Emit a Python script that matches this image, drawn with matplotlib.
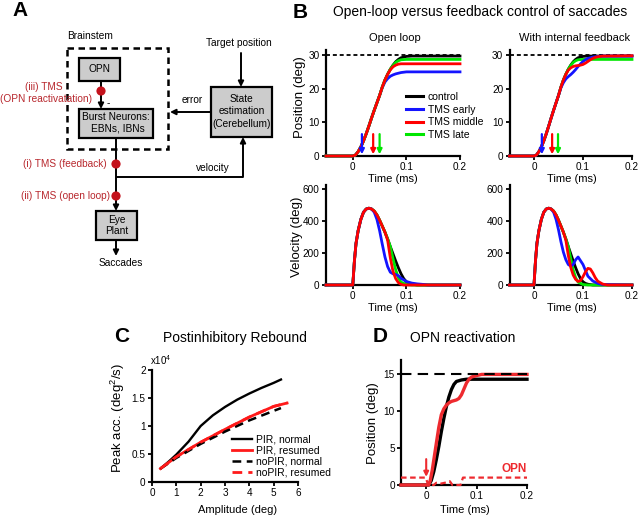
import matplotlib
matplotlib.use('Agg')
import matplotlib.pyplot as plt
from matplotlib.patches import Rectangle, Circle
from matplotlib.lines import Line2D

plt.rcParams['font.family'] = ['Liberation Sans', 'DejaVu Sans']
plt.rcParams['mathtext.fontset'] = 'custom'
plt.rcParams['mathtext.rm'] = 'Liberation Sans'
plt.rcParams['mathtext.it'] = 'Liberation Sans:italic'

W, H = 640, 516

# ---------------- DATA ----------------
# Panel B: time (s) and traces
b_labels = ['control', 'TMS early', 'TMS middle', 'TMS late']
b_colors = ['#000000', '#1414ff', '#ff0000', '#00e600']
target_pos = 30

# Position, open loop
t_ctrl_pos = [-0.05, 0.0, 0.005, 0.01, 0.015, 0.02, 0.025, 0.03, 0.035, 0.04, 0.045, 0.05,
              0.055, 0.06, 0.065, 0.07, 0.075, 0.08, 0.085, 0.09, 0.1, 0.11, 0.2]
p_ctrl = [0, 0, 0.3, 1.3, 2.7, 4.5, 6.6, 8.9, 11.3, 13.6, 15.8, 18.0,
          20.5, 22.6, 24.3, 25.8, 27.0, 28.0, 28.7, 29.2, 29.6, 29.7, 29.7]

t_early_pos = [-0.05, 0.0, 0.005, 0.01, 0.015, 0.02, 0.025, 0.03, 0.035, 0.04, 0.045, 0.05,
               0.055, 0.06, 0.065, 0.07, 0.075, 0.08, 0.09, 0.1, 0.11, 0.2]
p_early_ol = [0, 0, 0.3, 1.3, 2.7, 4.5, 6.6, 8.9, 11.3, 13.6, 15.8, 18.0,
              20.3, 22.0, 23.0, 23.7, 24.1, 24.4, 24.8, 25.0, 25.0, 25.0]

t_mid_pos = [-0.05, 0.0, 0.005, 0.01, 0.015, 0.02, 0.025, 0.03, 0.035, 0.04, 0.045, 0.05,
             0.055, 0.06, 0.065, 0.07, 0.075, 0.08, 0.085, 0.09, 0.2]
p_mid_ol = [0, 0, 0.3, 1.3, 2.7, 4.5, 6.6, 8.9, 11.3, 13.6, 15.8, 18.0,
            20.5, 22.6, 24.3, 25.6, 26.5, 27.0, 27.3, 27.4, 27.4]

t_late_pos = [-0.05, 0.0, 0.005, 0.01, 0.015, 0.02, 0.025, 0.03, 0.035, 0.04, 0.045, 0.05,
              0.055, 0.06, 0.065, 0.07, 0.075, 0.08, 0.085, 0.09, 0.1, 0.2]
p_late = [0, 0, 0.3, 1.3, 2.7, 4.5, 6.6, 8.9, 11.3, 13.6, 15.8, 18.0,
          20.5, 22.6, 24.3, 25.8, 26.9, 27.8, 28.3, 28.6, 28.7, 28.7]

# Position, with internal feedback
t_early_fb_pos = [-0.05, 0.0, 0.005, 0.01, 0.015, 0.02, 0.025, 0.03, 0.035, 0.04, 0.045, 0.05,
                  0.055, 0.06, 0.065, 0.07, 0.075, 0.08, 0.085, 0.09, 0.095, 0.1, 0.105,
                  0.11, 0.12, 0.13, 0.14, 0.2]
p_early_fb = [0, 0, 0.3, 1.3, 2.7, 4.5, 6.6, 8.9, 11.3, 13.6, 15.8, 18.0,
              20.3, 21.8, 22.9, 23.6, 24.2, 24.9, 25.7, 26.6, 27.4, 28.1, 28.6,
              29.0, 29.4, 29.6, 29.7, 29.7]
t_mid_fb_pos = [-0.05, 0.0, 0.005, 0.01, 0.015, 0.02, 0.025, 0.03, 0.035, 0.04, 0.045, 0.05,
                0.055, 0.06, 0.065, 0.07, 0.075, 0.08, 0.085, 0.09, 0.095, 0.1, 0.105,
                0.11, 0.115, 0.12, 0.125, 0.13, 0.14, 0.2]
p_mid_fb = [0, 0, 0.3, 1.3, 2.7, 4.5, 6.6, 8.9, 11.3, 13.6, 15.8, 18.0,
            20.5, 22.6, 24.3, 25.5, 26.2, 26.6, 26.8, 26.9, 27.0, 27.2, 27.6,
            28.1, 28.6, 29.0, 29.3, 29.5, 29.7, 29.8]

# Velocity (deg/s)
t_ctrl_vel = [-0.05, 0.0, 0.003, 0.006, 0.01, 0.015, 0.02, 0.025, 0.03, 0.035, 0.04, 0.045,
              0.05, 0.055, 0.06, 0.065, 0.07, 0.075, 0.08, 0.085, 0.09, 0.095, 0.1, 0.105,
              0.11, 0.12, 0.2]
v_ctrl = [0, 0, 150, 260, 340, 410, 455, 475, 480, 475, 462, 438,
          405, 368, 330, 288, 240, 195, 150, 108, 70, 40, 20, 10, 5, 0, 0]

t_early_vel = [-0.05, 0.0, 0.003, 0.006, 0.01, 0.015, 0.02, 0.025, 0.03, 0.035, 0.04, 0.045,
               0.05, 0.055, 0.06, 0.065, 0.07, 0.075, 0.08, 0.085, 0.09, 0.1, 0.11, 0.12,
               0.13, 0.14, 0.2]
v_early_ol = [0, 0, 150, 260, 340, 410, 455, 475, 480, 475, 455, 410,
              340, 255, 175, 115, 80, 70, 66, 58, 42, 22, 12, 7, 4, 0, 0]
v_early_fb = [0, 0, 150, 260, 340, 410, 455, 475, 480, 475, 455, 410,
              345, 270, 205, 158, 128, 118, 128, 158, 175, 128, 55, 25, 10, 3, 0]

t_mid_vel = [-0.05, 0.0, 0.003, 0.006, 0.01, 0.015, 0.02, 0.025, 0.03, 0.035, 0.04, 0.045,
             0.05, 0.055, 0.06, 0.065, 0.07, 0.075, 0.08, 0.085, 0.09, 0.095, 0.1, 0.105,
             0.11, 0.115, 0.12, 0.125, 0.13, 0.14, 0.15, 0.2]
v_mid_ol = [0, 0, 150, 260, 340, 410, 455, 475, 480, 475, 462, 438,
            405, 368, 330, 280, 170, 85, 40, 15, 4, 0, 0, 0,
            0, 0, 0, 0, 0, 0, 0, 0]
v_mid_fb = [0, 0, 150, 260, 340, 410, 455, 475, 480, 475, 462, 438,
            405, 368, 330, 280, 185, 110, 62, 35, 22, 28, 52, 82,
            104, 100, 76, 46, 24, 6, 0, 0]

t_late_vel = [-0.05, 0.0, 0.003, 0.006, 0.01, 0.015, 0.02, 0.025, 0.03, 0.035, 0.04, 0.045,
              0.05, 0.055, 0.06, 0.065, 0.07, 0.075, 0.08, 0.085, 0.09, 0.1, 0.11, 0.2]
v_late = [0, 0, 150, 260, 340, 410, 455, 475, 480, 475, 462, 438,
          405, 368, 330, 288, 240, 165, 95, 45, 18, 3, 0, 0]

tms_times_ol = [0.017, 0.038, 0.05]
tms_times_fb = [0.016, 0.037, 0.049]

# Panel C: amplitude (deg) vs peak acceleration (x10^4 deg^2/s)
c_labels = ['PIR, normal', 'PIR, resumed', 'noPIR, normal', 'noPIR, resumed']
amp_pir_normal = [0.35, 0.7, 1.0, 1.5, 2.0, 2.5, 3.0, 3.5, 4.0, 4.5, 5.0, 5.3]
acc_pir_normal = [0.24, 0.37, 0.49, 0.72, 1.0, 1.19, 1.34, 1.47, 1.58, 1.68, 1.77, 1.83]
amp_pir_resumed = [0.35, 1.0, 2.0, 3.0, 4.0, 5.0, 5.55]
acc_pir_resumed = [0.24, 0.45, 0.71, 0.94, 1.16, 1.35, 1.41]
amp_nopir_normal = [0.35, 1.0, 2.0, 3.0, 4.0, 5.0, 5.3]
acc_nopir_normal = [0.24, 0.43, 0.68, 0.90, 1.10, 1.27, 1.32]
amp_nopir_resumed = [0.35, 1.0, 2.0, 3.0, 4.0, 5.0, 5.55]
acc_nopir_resumed = [0.24, 0.45, 0.71, 0.94, 1.16, 1.35, 1.41]

# Panel D: OPN reactivation
d_target = 15
t_d_normal = [-0.05, 0.0, 0.005, 0.01, 0.015, 0.02, 0.025, 0.03, 0.035, 0.04, 0.045, 0.05,
              0.055, 0.06, 0.07, 0.08, 0.2]
p_d_normal = [0, 0, 0, 0.6, 1.8, 3.4, 5.2, 7.2, 9.0, 10.6, 11.9, 12.9,
              13.6, 14.0, 14.2, 14.3, 14.3]
t_d_react = [-0.05, 0.0, 0.005, 0.008, 0.012, 0.016, 0.02, 0.025, 0.03, 0.035, 0.04, 0.045,
             0.05, 0.055, 0.06, 0.065, 0.07, 0.075, 0.08, 0.085, 0.09, 0.1, 0.11, 0.2]
p_d_react = [0, 0, 0, 0.6, 2.0, 3.8, 5.6, 7.8, 9.5, 10.3, 10.8, 11.1,
             11.3, 11.4, 11.5, 11.7, 12.2, 13.0, 13.8, 14.3, 14.6, 14.8, 14.95, 14.95]
t_opn = [-0.05, -0.001, 0.004, 0.015, 0.02, 0.03, 0.04, 0.047, 0.052, 0.068, 0.073, 0.2]
v_opn = [1, 1, 0, 0, 0.3, 0.2, 0.35, 0.5, 0, 0, 1, 1]
tms_time_d = 0.0

# ---------------- FIGURE ----------------
fig = plt.figure(figsize=(6.4, 5.16), dpi=100)


def rect(x0, y0, x1, y1):
    return [x0 / W, 1 - y1 / H, (x1 - x0) / W, (y1 - y0) / H]


def ftext(x, y, s, **kw):
    kw.setdefault('ha', 'center')
    kw.setdefault('va', 'center')
    fig.text(x / W, 1 - y / H, s, **kw)


def style(ax, xlim, ylim, xticks, yticks, xticklabels=None, yticklabels=None):
    ax.set_xlim(xlim)
    ax.set_ylim(ylim)
    for s in ['top', 'right']:
        ax.spines[s].set_visible(False)
    for s in ['left', 'bottom']:
        ax.spines[s].set_linewidth(1.6)
    ax.set_xticks(xticks)
    ax.set_yticks(yticks)
    if xticklabels is not None:
        ax.set_xticklabels(xticklabels)
    if yticklabels is not None:
        ax.set_yticklabels(yticklabels)
    ax.tick_params(direction='out', length=3, width=1.3, labelsize=7.2, pad=1.5)
    ax.patch.set_alpha(0)


# ---------- Panel A: diagram ----------
axA = fig.add_axes([0, 0, 1, 1])
axA.set_xlim(0, W)
axA.set_ylim(H, 0)
axA.axis('off')
gray = '#cccccc'
tred = '#b8282e'
dred = '#c4121c'
fs = 7.3


def gbox(x0, y0, x1, y1):
    axA.add_patch(Rectangle((x0, y0), x1 - x0, y1 - y0, facecolor=gray,
                            edgecolor='k', lw=1.6, zorder=3))


def arrow(x0, y0, x1, y1):
    axA.annotate('', xy=(x1, y1), xytext=(x0, y0),
                 arrowprops=dict(arrowstyle='-|>', color='k', lw=1.4,
                                 mutation_scale=8, shrinkA=0, shrinkB=0), zorder=2)


def line(xs, ys):
    axA.plot(xs, ys, color='k', lw=1.4, zorder=2, solid_capstyle='butt')


def dot(x, y):
    axA.add_patch(Circle((x, y), 4.6, facecolor=dred, edgecolor='none', zorder=5))


axA.add_patch(Rectangle((67, 48), 101, 101, facecolor='none', edgecolor='k',
                        lw=1.8, ls=(0, (2.6, 1.8)), zorder=2))
axA.text(67, 36, 'Brainstem', ha='left', va='center', fontsize=fs)
gbox(79, 58, 120, 81)
axA.text(99.5, 69.5, 'OPN', ha='center', va='center', fontsize=fs, zorder=4)
arrow(101, 81, 101, 109)
dot(101, 91)
axA.text(108, 103, '-', ha='center', va='center', fontsize=fs)
axA.text(63, 87, '(iii) TMS', ha='right', va='center', fontsize=fs, color=tred)
axA.text(0.5, 99, '(OPN reactivatation)', ha='left', va='center', fontsize=fs, color=tred)
gbox(79, 109, 153, 138)
axA.text(116, 117.5, 'Burst Neurons:', ha='center', va='center', fontsize=fs, zorder=4)
axA.text(118, 128.5, 'EBNs, IBNs', ha='center', va='center', fontsize=fs, zorder=4)
gbox(211, 87, 272, 137)
axA.text(241.5, 99, 'State', ha='center', va='center', fontsize=fs, zorder=4)
axA.text(241.5, 111.5, 'estimation', ha='center', va='center', fontsize=fs, zorder=4)
axA.text(241.5, 124, '(Cerebellum)', ha='center', va='center', fontsize=fs, zorder=4)
axA.text(239, 43, 'Target position', ha='center', va='center', fontsize=fs)
arrow(241, 53, 241, 87)
arrow(211, 112, 170, 112)
axA.text(192, 100, 'error', ha='center', va='center', fontsize=fs)
arrow(116, 138, 116, 211)
line([116, 243], [177, 177])
arrow(243, 177, 243, 137)
axA.text(213, 168, 'velocity', ha='center', va='center', fontsize=fs)
dot(116, 164)
axA.text(107, 164, '(i) TMS (feedback)', ha='right', va='center', fontsize=fs, color=tred)
dot(116, 196)
axA.text(110, 196, '(ii) TMS (open loop)', ha='right', va='center', fontsize=fs, color=tred)
gbox(96, 211, 137, 240)
axA.text(116.5, 220, 'Eye', ha='center', va='center', fontsize=fs, zorder=4)
axA.text(116.5, 231, 'Plant', ha='center', va='center', fontsize=fs, zorder=4)
arrow(116, 240, 116, 256)
axA.text(121, 263, 'Saccades', ha='center', va='center', fontsize=fs)

# Panel letters and titles
ftext(20, 11, 'A', fontsize=15, fontweight='bold')
ftext(300, 12, 'B', fontsize=15, fontweight='bold')
ftext(122, 337, 'C', fontsize=15, fontweight='bold')
ftext(380, 337, 'D', fontsize=15, fontweight='bold')
ftext(480, 12, 'Open-loop versus feedback control of saccades', fontsize=10)
ftext(395, 38, 'Open loop', fontsize=8)
ftext(575, 38, 'With internal feedback', fontsize=8)
ftext(235, 338, 'Postinhibitory Rebound', fontsize=10)
ftext(463, 338, 'OPN reactivation', fontsize=10)

# ---------- Panel B ----------
lw_b = 2.0
tx = [0, 0.1, 0.2]
txl = ['0', '0.1', '0.2']
axes_b = {
    'pos_ol': fig.add_axes(rect(326, 50, 460, 156)),
    'pos_fb': fig.add_axes(rect(509.5, 50, 632, 156)),
    'vel_ol': fig.add_axes(rect(326, 185, 460, 285)),
    'vel_fb': fig.add_axes(rect(509.5, 185, 632, 285)),
}
for key in ['pos_ol', 'pos_fb']:
    style(axes_b[key], (-0.05, 0.2), (0, 31.5), tx, [0, 10, 20, 30], txl)
for key in ['vel_ol', 'vel_fb']:
    style(axes_b[key], (-0.05, 0.2), (0, 625), tx, [0, 200, 400, 600], txl)

pos_sets = {
    'pos_ol': [(t_ctrl_pos, p_ctrl), (t_early_pos, p_early_ol), (t_late_pos, p_late), (t_mid_pos, p_mid_ol)],
    'pos_fb': [(t_ctrl_pos, p_ctrl), (t_late_pos, p_late), (t_early_fb_pos, p_early_fb), (t_mid_fb_pos, p_mid_fb)],
}
pos_cols = {
    'pos_ol': [b_colors[0], b_colors[1], b_colors[3], b_colors[2]],
    'pos_fb': [b_colors[0], b_colors[3], b_colors[1], b_colors[2]],
}
for key in pos_sets:
    ax = axes_b[key]
    ax.plot([-0.05, 0.2], [target_pos, target_pos], color='k', lw=1.3,
            ls=(0, (2.2, 1.6)), clip_on=False, zorder=1)
    for (tt, pp), c in zip(pos_sets[key], pos_cols[key]):
        ax.plot(tt, pp, color=c, lw=lw_b, clip_on=False, zorder=3)
    times = tms_times_ol if key == 'pos_ol' else tms_times_fb
    for tm, c in zip(times, [b_colors[1], b_colors[2], b_colors[3]]):
        ax.annotate('', xy=(tm, 0.5), xytext=(tm, 6.5),
                    arrowprops=dict(arrowstyle='-|>', color=c, lw=1.6,
                                    mutation_scale=7, shrinkA=0, shrinkB=0), zorder=4)

vel_sets = {
    'vel_ol': [(t_ctrl_vel, v_ctrl, b_colors[0]), (t_late_vel, v_late, b_colors[3]),
               (t_early_vel, v_early_ol, b_colors[1]), (t_mid_vel, v_mid_ol, b_colors[2])],
    'vel_fb': [(t_ctrl_vel, v_ctrl, b_colors[0]), (t_late_vel, v_late, b_colors[3]),
               (t_early_vel, v_early_fb, b_colors[1]), (t_mid_vel, v_mid_fb, b_colors[2])],
}
for key in vel_sets:
    ax = axes_b[key]
    for tt, vv, c in vel_sets[key]:
        ax.plot(tt, vv, color=c, lw=lw_b, clip_on=False, zorder=3)

handles = [Line2D([], [], color=c, lw=2.2) for c in b_colors]
axes_b['pos_ol'].legend(handles, b_labels, loc='upper left', frameon=False, fontsize=7.5,
                        handlelength=1.6, handletextpad=0.5, labelspacing=0.25,
                        borderpad=0, borderaxespad=0,
                        bbox_to_anchor=(406 / W, 1 - 92 / H), bbox_transform=fig.transFigure)

ftext(300, 97, 'Position (deg)', fontsize=9.5, rotation=90)
ftext(297, 237, 'Velocity (deg)', fontsize=9.5, rotation=90)
ftext(393, 179, 'Time (ms)', fontsize=8)
ftext(572, 179, 'Time (ms)', fontsize=8)
ftext(393, 308, 'Time (ms)', fontsize=8)
ftext(572, 308, 'Time (ms)', fontsize=8)

# ---------- Panel C ----------
axC = fig.add_axes(rect(152, 370, 298, 482))
style(axC, (0, 6), (0, 2), [0, 1, 2, 3, 4, 5, 6], [0, 0.5, 1, 1.5, 2],
      yticklabels=['0', '0.5', '1', '1.5', '2'])
c_red = '#ff1a1a'
axC.plot(amp_pir_normal, acc_pir_normal, color='k', lw=1.7)
axC.plot(amp_pir_resumed, acc_pir_resumed, color=c_red, lw=2.0)
axC.plot(amp_nopir_normal, acc_nopir_normal, color='k', lw=1.8, ls=(0, (3.5, 2.2)))
axC.plot(amp_nopir_resumed, acc_nopir_resumed, color=c_red, lw=2.0, ls=(0, (3.5, 2.2)))
c_handles = [Line2D([], [], color='k', lw=1.7), Line2D([], [], color=c_red, lw=2.0),
             Line2D([], [], color='k', lw=1.8, ls=(0, (3.5, 2.2))),
             Line2D([], [], color=c_red, lw=2.0, ls=(0, (3.5, 2.2)))]
axC.legend(c_handles, c_labels, loc='upper left', frameon=False, fontsize=7.5,
           handlelength=1.9, handletextpad=0.45, labelspacing=0.08,
           borderpad=0, borderaxespad=0,
           bbox_to_anchor=(232 / W, 1 - 435 / H), bbox_transform=fig.transFigure)
ftext(150, 360, r'x10$^4$', fontsize=7, ha='left')
ftext(118, 418, 'Peak acc. (deg$^2$/s)', fontsize=9.5, rotation=90)
ftext(238, 510, 'Amplitude (deg)', fontsize=8)

# ---------- Panel D ----------
axD = fig.add_axes(rect(401, 360, 527, 485))
style(axD, (-0.05, 0.2), (0, 16.9), tx, [0, 5, 10, 15], txl)
d_red = '#ee2a2f'
axD.plot(t_d_normal, p_d_normal, color='k', lw=2.4, clip_on=False, zorder=3)
axD.plot(t_d_react, p_d_react, color=d_red, lw=2.4, clip_on=False, zorder=3)
axD.plot([-0.05, 0.2], [d_target, d_target], color='k', lw=1.5, ls=(0, (5, 3)),
         clip_on=False, zorder=4)
axD.plot(t_opn, v_opn, color=d_red, lw=1.6, ls=(0, (2.5, 1.6)), clip_on=False, zorder=4)
axD.annotate('', xy=(tms_time_d, 1.1), xytext=(tms_time_d, 3.5),
             arrowprops=dict(arrowstyle='-|>', color=d_red, lw=1.5,
                             mutation_scale=7, shrinkA=0, shrinkB=0), zorder=5)
axD.text(0.2, 2.1, 'OPN', color=d_red, fontsize=8.5, fontweight='bold',
         ha='right', va='center')
ftext(373, 423, 'Position (deg)', fontsize=9.5, rotation=90)
ftext(465, 510, 'Time (ms)', fontsize=8)

fig.savefig('out.png', dpi=100)
